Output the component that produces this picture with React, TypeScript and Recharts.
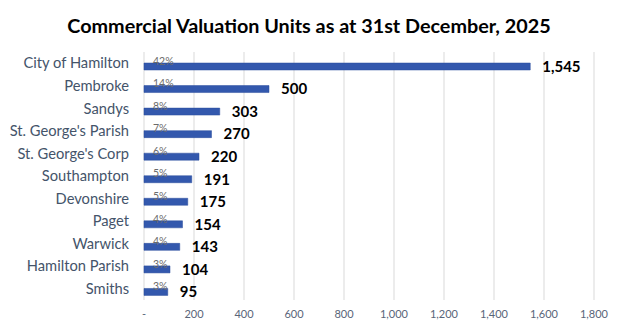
import React from "react";
import { BarChart, Bar, XAxis, YAxis, CartesianGrid, LabelList } from "recharts";

const categories = [
  "City of Hamilton",
  "Pembroke",
  "Sandys",
  "St. George's Parish",
  "St. George's Corp",
  "Southampton",
  "Devonshire",
  "Paget",
  "Warwick",
  "Hamilton Parish",
  "Smiths",
];
const units = [1545, 500, 303, 270, 220, 191, 175, 154, 143, 104, 95];
const sharePct = [42, 14, 8, 7, 6, 5, 5, 4, 4, 3, 3];
const xTicks = [0, 200, 400, 600, 800, 1000, 1200, 1400, 1600, 1800];

const data = categories.map((name, i) => ({
  name,
  units: units[i],
  share: sharePct[i],
  shareLabel: `${sharePct[i]}%`,
}));

const FONT = "Lato, 'Open Sans', sans-serif";

const fmtX = (v: number) => (v === 0 ? "-" : v.toLocaleString("en-US"));
const fmtVal = (v: any) => Number(v).toLocaleString("en-US");

export default function App() {
  return (
    <div
      style={{
        position: "absolute",
        left: 0,
        top: 0,
        width: 624,
        height: 332,
        background: "#ffffff",
        fontFamily: FONT,
      }}
    >
      <div
        style={{
          position: "absolute",
          left: 0,
          top: 11,
          width: 618,
          textAlign: "center",
          fontSize: 19.8,
          fontWeight: 700,
          color: "#000000",
          lineHeight: "28px",
        }}
      >
        Commercial Valuation Units as at 31st December, 2025
      </div>
      <BarChart
        width={624}
        height={332}
        data={data}
        layout="vertical"
        margin={{ top: 52, right: 30, bottom: 0, left: 0 }}
        barGap={0}
        barCategoryGap={0}
      >
        <CartesianGrid horizontal={false} vertical={true} stroke="#d9d9d9" />
        <XAxis
          type="number"
          domain={[0, 1800]}
          ticks={xTicks}
          tickFormatter={fmtX}
          axisLine={false}
          tickLine={false}
          tickSize={0}
          tickMargin={10}
          height={32}
          tick={{ fontSize: 11, fill: "#596579", fontFamily: FONT }}
          interval={0}
        />
        <YAxis
          type="category"
          dataKey="name"
          width={144}
          axisLine={false}
          tickLine={false}
          tickSize={0}
          tickMargin={15}
          tick={{ fontSize: 14.7, fill: "#44546a", fontFamily: FONT }}
          interval={0}
        />
        <Bar
          dataKey="share"
          fill="transparent"
          barSize={7}
          isAnimationActive={false}
        >
          <LabelList
            dataKey="shareLabel"
            position="insideLeft"
            offset={9}
            dy={1.5}
            style={{ fontSize: 10.5, fill: "#6b6b6b", fontFamily: FONT }}
          />
        </Bar>
        <Bar
          dataKey="units"
          fill="#3358ad"
          stroke="#2a4c9c"
          strokeWidth={0.5}
          barSize={7}
          isAnimationActive={false}
        >
          <LabelList
            dataKey="units"
            position="right"
            offset={12}
            formatter={fmtVal}
            style={{ fontSize: 15, fontWeight: 700, fill: "#000000", fontFamily: FONT }}
          />
        </Bar>
      </BarChart>
    </div>
  );
}
